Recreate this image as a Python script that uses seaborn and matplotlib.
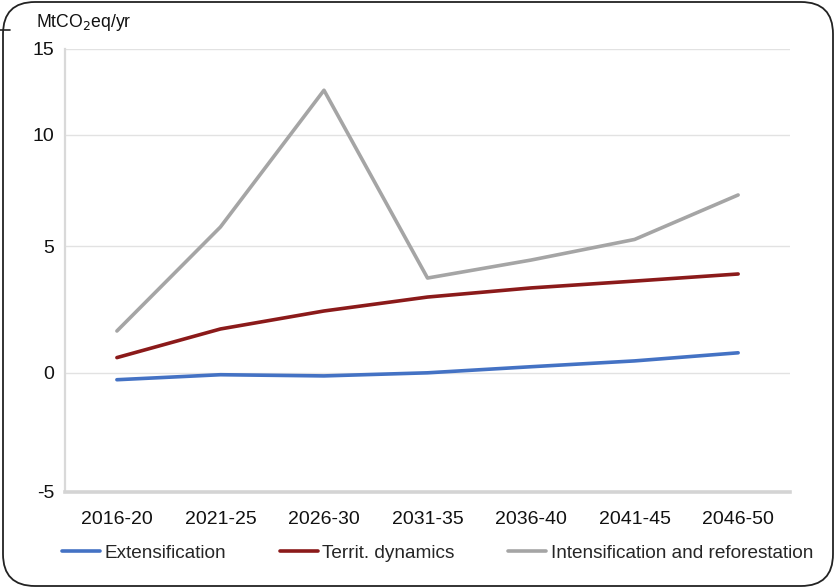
import matplotlib
matplotlib.use("Agg")
import matplotlib.pyplot as plt
import numpy as np
import pandas as pd
import seaborn as sns
from matplotlib.lines import Line2D
from matplotlib.patches import FancyBboxPatch

periods = ["2016-20", "2021-25", "2026-30", "2031-35", "2036-40", "2041-45", "2046-50"]
extensification = [-0.29, -0.08, -0.13, 0.0, 0.24, 0.47, 0.79]
territ_dynamics = [0.6, 1.73, 2.44, 2.99, 3.35, 3.62, 3.9]
intens_reforest = [1.65, 5.86, 12.6, 3.74, 4.45, 5.3, 7.3]

series_names = ["Extensification", "Territ. dynamics", "Intensification and reforestation"]
colors = ["#4472C4", "#8B1A1A", "#A5A5A5"]
y_ticks = [-5, 0, 5, 10, 15]

# the scanned chart has unevenly spaced gridlines; mimic that with a piecewise scale
knot_vals = np.array([-105, -5, 0, 5, 10, 15, 115], dtype=float)
knot_pos = np.array([-5.0, 0.0, 0.269, 0.555, 0.806, 1.0, 6.0])


def _fwd(v):
	return np.interp(v, knot_vals, knot_pos)


def _inv(p):
	return np.interp(p, knot_pos, knot_vals)


df = pd.DataFrame({
	"period": periods * 3,
	"value": extensification + territ_dynamics + intens_reforest,
	"series": [n for n in series_names for _ in periods],
})

sns.set_theme(style="white")
plt.rcParams["font.family"] = ["Liberation Sans", "DejaVu Sans"]

fig = plt.figure(figsize=(8.35, 5.88), dpi=100)
ax = fig.add_axes([0.078, 0.1633, 0.868, 0.7534])
ax.set_yscale("function", functions=(_fwd, _inv))

sns.lineplot(data=df, x="period", y="value", hue="series", palette=colors,
	linewidth=2.6, sort=False, ax=ax, legend=True)

ax.set_xlim(-0.5, 6.5)
ax.set_ylim(-5, 15)
ax.set_yticks(y_ticks)
ax.set_yticklabels([str(t) for t in y_ticks])
ax.yaxis.set_minor_locator(matplotlib.ticker.NullLocator())
ax.set_xlabel("")
ax.set_ylabel("")
ax.yaxis.grid(True, color="#e2e2e2", linewidth=1.0)
ax.set_axisbelow(True)

for side in ["top", "right"]:
	ax.spines[side].set_visible(False)
ax.spines["left"].set_color("#d9d9d9")
ax.spines["left"].set_linewidth(1.6)
ax.spines["bottom"].set_color("#d4d4d4")
ax.spines["bottom"].set_linewidth(2.6)

ax.tick_params(axis="y", labelsize=14, length=5, color="#d9d9d9", pad=3, labelcolor="#111111")
ax.tick_params(axis="x", labelsize=14, length=16, direction="inout", color="#d4d4d4",
	width=1.2, pad=6, labelcolor="#111111")

fig.text(0.043, 0.962, "MtCO$_2$eq/yr", fontsize=12.7, ha="left", va="center", color="#111111")

ax.legend(loc="center left", bbox_to_anchor=(0.074, 0.059), bbox_transform=fig.transFigure,
	ncol=3, frameon=False, fontsize=13.7, handlelength=2.0, handletextpad=0.25,
	columnspacing=2.8, borderpad=0, borderaxespad=0)

frame = FancyBboxPatch((0.03, 0.02), 8.30, 5.84, boxstyle="round,pad=0,rounding_size=0.32",
	transform=fig.dpi_scale_trans, facecolor="none", edgecolor="#222222", linewidth=1.3)
fig.patches.append(frame)
fig.add_artist(Line2D([0.0, 0.012], [0.949, 0.949], transform=fig.transFigure,
	color="#222222", linewidth=1.2))

fig.savefig("out.png", dpi=100)
